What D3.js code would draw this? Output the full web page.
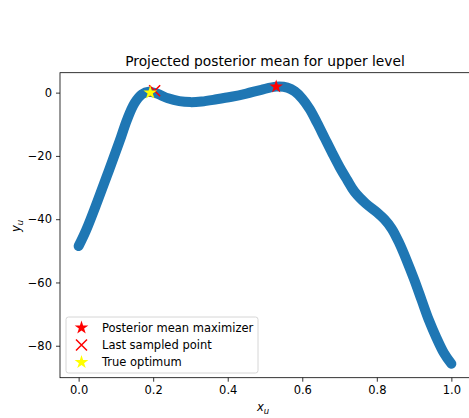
<!DOCTYPE html>
<html>
<head>
<meta charset="utf-8">
<script src="https://cdn.jsdelivr.net/npm/d3@7"></script>
<style>
  body { margin: 0; background: #fff; }
  svg { display: block; font-family: "DejaVu Sans", sans-serif; }
</style>
</head>
<body>
<div id="chart"></div>
<script>
// posterior mean curve
var xs = [0.00, 0.02, 0.05, 0.08, 0.11, 0.13, 0.15, 0.17, 0.188, 0.21, 0.24, 0.27,
  0.30, 0.33, 0.37, 0.41, 0.45, 0.49, 0.53, 0.56, 0.58, 0.60, 0.62, 0.64, 0.66,
  0.68, 0.70, 0.72, 0.74, 0.77, 0.80, 0.82, 0.84, 0.86, 0.88, 0.90, 0.92, 0.94,
  0.96, 0.98, 1.0];
var ys = [-48.5, -43.5, -34.5, -25, -15.3, -8.5, -3.3, -0.5, 0.3, -0.3, -1.8, -2.7,
  -3.0, -2.8, -2.1, -1.3, -0.3, 0.9, 1.9, 1.6, 0.4, -1.9, -5.2, -9.6, -14.3,
  -19, -23.5, -27.5, -31.3, -35, -37.8, -40, -43, -47.5, -53, -59, -65.5, -72,
  -77.5, -82.3, -85.7];

var maximizer = [0.53, 1.9];
var lastSampled = [0.204, 0.6];
var trueOptimum = [0.192, 0.0];

var xTicks = [0.0, 0.2, 0.4, 0.6, 0.8, 1.0];
var yTicks = [0, -20, -40, -60, -80];
var legendLabels = ["Posterior mean maximizer", "Last sampled point", "True optimum"];

const W = 469, H = 418;
const axLeft = 60, axRight = 470, axTop = 72.7, axBottom = 377.7;

var svg = d3.select("#chart").append("svg").attr("width", W).attr("height", H);

var x = d3.scaleLinear().domain([-0.05, 1.05]).range([axLeft, axRight]);
var y = d3.scaleLinear().domain([-90.1, 6.3]).range([axBottom, axTop]);

var plot = svg.append("g");

// the scatter is so dense it reads as a thick band
var pts = xs.map(function (d, i) { return [d, ys[i]]; });
plot.append("path")
  .datum(pts)
  .attr("fill", "none")
  .attr("stroke", "#1f77b4")
  .attr("stroke-width", 10)
  .attr("stroke-linecap", "round")
  .attr("stroke-linejoin", "round")
  .attr("d", d3.line()
    .x(function (d) { return x(d[0]); })
    .y(function (d) { return y(d[1]); })
    .curve(d3.curveCatmullRom));

var star = d3.symbol().type(d3.symbolStar).size(58);

function drawStar(g, cx, cy, color) {
  g.append("path")
    .attr("d", star)
    .attr("transform", "translate(" + cx + "," + cy + ")")
    .attr("fill", color);
}

function drawCross(g, cx, cy) {
  var s = 5.5;
  g.append("path")
    .attr("d", "M" + (cx - s) + "," + (cy - s) + "L" + (cx + s) + "," + (cy + s) +
      "M" + (cx - s) + "," + (cy + s) + "L" + (cx + s) + "," + (cy - s))
    .attr("stroke", "red")
    .attr("stroke-width", 1.5)
    .attr("fill", "none");
}

drawStar(plot, x(maximizer[0]), y(maximizer[1]), "red");
drawCross(plot, x(lastSampled[0]), y(lastSampled[1]));
drawStar(plot, x(trueOptimum[0]), y(trueOptimum[1]), "yellow");

// axes
var xAxis = svg.append("g")
  .attr("transform", "translate(0," + axBottom + ")")
  .call(d3.axisBottom(x).tickValues(xTicks).tickFormat(d3.format(".1f")).tickSizeOuter(0).tickSize(4).tickPadding(4));
var yAxis = svg.append("g")
  .attr("transform", "translate(" + axLeft + ",0)")
  .call(d3.axisLeft(y).tickValues(yTicks).tickFormat(function (d) { return d < 0 ? "\u2212" + Math.abs(d) : d; }).tickSizeOuter(0).tickSize(4).tickPadding(4));

[xAxis, yAxis].forEach(function (a) {
  a.select(".domain").remove();
  a.selectAll("text").attr("font-size", 11.5).attr("fill", "#000").attr("font-family", "DejaVu Sans, sans-serif");
  a.selectAll("line").attr("stroke", "#000").attr("stroke-width", 0.8);
});

// frame
svg.append("rect")
  .attr("x", axLeft).attr("y", axTop)
  .attr("width", axRight - axLeft).attr("height", axBottom - axTop)
  .attr("fill", "none").attr("stroke", "#000").attr("stroke-width", 0.8);

svg.append("text")
  .attr("x", (axLeft + axRight) / 2).attr("y", 66)
  .attr("text-anchor", "middle")
  .attr("font-size", 13.8)
  .text("Projected posterior mean for upper level");

var xl = svg.append("text")
  .attr("x", 263).attr("y", 411)
  .attr("text-anchor", "middle")
  .attr("font-size", 11.5);
xl.append("tspan").attr("font-style", "italic").text("x");
xl.append("tspan").attr("font-style", "italic").attr("font-size", 8.5).attr("dy", 2.5).text("u");

var yl = svg.append("text")
  .attr("transform", "translate(20,226) rotate(-90)")
  .attr("text-anchor", "middle")
  .attr("font-size", 11.5);
yl.append("tspan").attr("font-style", "italic").text("y");
yl.append("tspan").attr("font-style", "italic").attr("font-size", 8.5).attr("dy", 2.5).text("u");

// legend
var lg = svg.append("g");
lg.append("rect")
  .attr("x", 66).attr("y", 317).attr("width", 192).attr("height", 56)
  .attr("rx", 2.5)
  .attr("fill", "#fff").attr("fill-opacity", 0.8)
  .attr("stroke", "#ccc").attr("stroke-width", 0.8);

var rowY = [327.7, 345, 362.3];
drawStar(lg, 81.5, rowY[0], "red");
drawCross(lg, 81.5, rowY[1]);
drawStar(lg, 81.5, rowY[2], "yellow");

lg.selectAll("text.lbl")
  .data(legendLabels)
  .join("text")
  .attr("class", "lbl")
  .attr("x", 102)
  .attr("y", function (d, i) { return rowY[i] + 4; })
  .attr("font-size", 11.5)
  .text(function (d) { return d; });
</script>
</body>
</html>
